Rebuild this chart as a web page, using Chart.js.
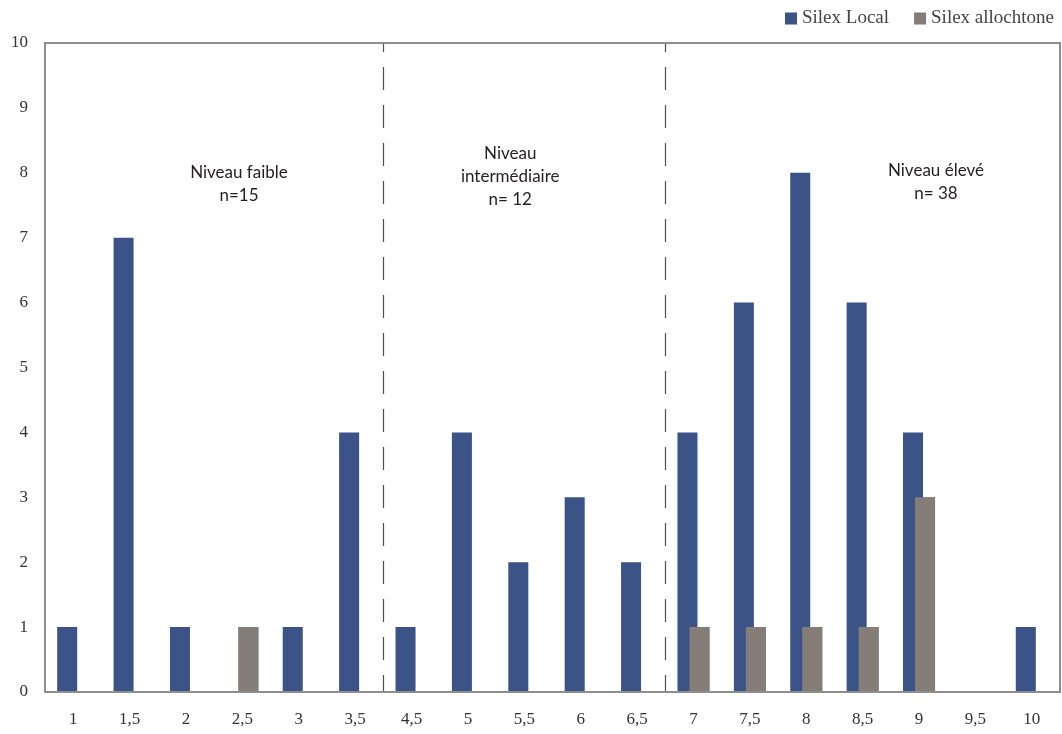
<!DOCTYPE html>
<html>
<head>
<meta charset="utf-8">
<script src="https://cdn.jsdelivr.net/npm/chart.js@4.4.1/dist/chart.umd.min.js"></script>
<style>
  html, body { margin: 0; padding: 0; background: #ffffff; }
  #wrap { width: 1062px; height: 734px; }
</style>
</head>
<body>
<div id="wrap"><canvas id="c" width="1062" height="734"></canvas></div>
<script>
// ---- data ----
const categories = ['1', '1,5', '2', '2,5', '3', '3,5', '4,5', '5', '5,5', '6', '6,5', '7', '7,5', '8', '8,5', '9', '9,5', '10'];
const silexLocal = [1, 7, 1, 0, 1, 4, 1, 4, 2, 3, 2, 4, 6, 8, 6, 4, 0, 1];
const silexAllochtone = [0, 0, 0, 1, 0, 0, 0, 0, 0, 0, 0, 1, 1, 1, 1, 3, 0, 0];
const seriesNames = ['Silex Local', 'Silex allochtone'];
const yTickValues = [0, 1, 2, 3, 4, 5, 6, 7, 8, 9, 10];
const zoneBoundaryAfter = ['3,5', '6,5'];
const zoneTexts = [
  ['Niveau faible', 'n=15'],
  ['Niveau', 'intermédiaire', 'n= 12'],
  ['Niveau élevé', 'n= 38']
];

// ---- styles / layout ----
const COLORS = ['#3b5387', '#857e78'];
const SERIF = '"Liberation Serif", "Times New Roman", serif';
const SANS = 'Lato, "Noto Sans", sans-serif';
// anchor (category index position, top-line value) for each zone text
const zoneAnchors = [[2.94, 8.0], [7.75, 8.30], [15.3, 8.04]];

const decor = {
  id: 'decor',
  afterDatasetsDraw(chart) {
    const { ctx, chartArea: a, scales: { x, y } } = chart;
    // draw the allochtone series in front of the local one (overlapping bars)
    const meta = chart.getDatasetMeta(1);
    ctx.save();
    meta.controller.draw();
    ctx.restore();

    // dashed zone separators
    ctx.save();
    ctx.strokeStyle = '#4d4d4d';
    ctx.lineWidth = 1.2;
    ctx.setLineDash([23, 15]);
    ctx.lineDashOffset = 14;
    zoneBoundaryAfter.forEach(lbl => {
      const px = Math.round(x.getPixelForValue(categories.indexOf(lbl) + 0.5)) + 0.5;
      ctx.beginPath();
      ctx.moveTo(px, a.top);
      ctx.lineTo(px, a.bottom);
      ctx.stroke();
    });
    ctx.restore();

    // plot frame
    ctx.save();
    ctx.strokeStyle = '#8e8e8e';
    ctx.lineWidth = 2;
    ctx.strokeRect(a.left, a.top, a.right - a.left, a.bottom - a.top);
    ctx.restore();

    // zone texts
    ctx.save();
    ctx.fillStyle = '#231f20';
    ctx.font = '17px ' + SANS;
    ctx.textAlign = 'center';
    ctx.textBaseline = 'middle';
    zoneTexts.forEach((lines, i) => {
      const cx = x.getPixelForValue(zoneAnchors[i][0]);
      const cy = y.getPixelForValue(zoneAnchors[i][1]);
      lines.forEach((t, k) => ctx.fillText(t, cx, cy + k * 23));
    });
    ctx.restore();
  },
  afterDraw(chart) {
    // legend (top right)
    const { ctx } = chart;
    ctx.save();
    ctx.font = '19px ' + SERIF;
    ctx.textBaseline = 'middle';
    ctx.textAlign = 'left';
    const box = 12, gapBox = 5, gapItem = 25, cy = 18.5;
    const widths = seriesNames.map(n => ctx.measureText(n).width);
    let total = 0;
    widths.forEach((w, i) => { total += box + gapBox + w + (i ? gapItem : 0); });
    let xPos = 1054 - total;
    seriesNames.forEach((n, i) => {
      ctx.fillStyle = COLORS[i];
      ctx.fillRect(xPos, cy - box / 2, box, box);
      ctx.fillStyle = '#444444';
      ctx.fillText(n, xPos + box + gapBox, cy);
      xPos += box + gapBox + widths[i] + gapItem;
    });
    ctx.restore();
  }
};

new Chart(document.getElementById('c'), {
  type: 'bar',
  data: {
    labels: categories,
    datasets: [
      { label: seriesNames[0], data: silexLocal, backgroundColor: COLORS[0], borderWidth: 0 },
      { label: seriesNames[1], data: silexAllochtone, backgroundColor: COLORS[1], borderWidth: 0 }
    ]
  },
  options: {
    responsive: false,
    devicePixelRatio: 1,
    animation: false,
    categoryPercentage: 0.426,
    barPercentage: 1.667,
    layout: { padding: { top: 43, right: 2, bottom: 0, left: 11 } },
    plugins: {
      legend: { display: false },
      tooltip: { enabled: false }
    },
    scales: {
      x: {
        grid: { display: false, drawTicks: false },
        border: { display: false },
        afterFit: (axis) => { axis.height = 42; },
        ticks: { color: '#333333', font: { family: SERIF, size: 17 }, padding: 17, maxRotation: 0, autoSkip: false }
      },
      y: {
        min: 0,
        max: 10,
        grid: { display: false, drawTicks: false },
        border: { display: false },
        afterFit: (axis) => { axis.width = 34; },
        afterBuildTicks: (axis) => { axis.ticks = yTickValues.map(v => ({ value: v })); },
        ticks: { color: '#333333', font: { family: SERIF, size: 17 }, padding: 17 }
      }
    }
  },
  plugins: [decor]
});
</script>
</body>
</html>
